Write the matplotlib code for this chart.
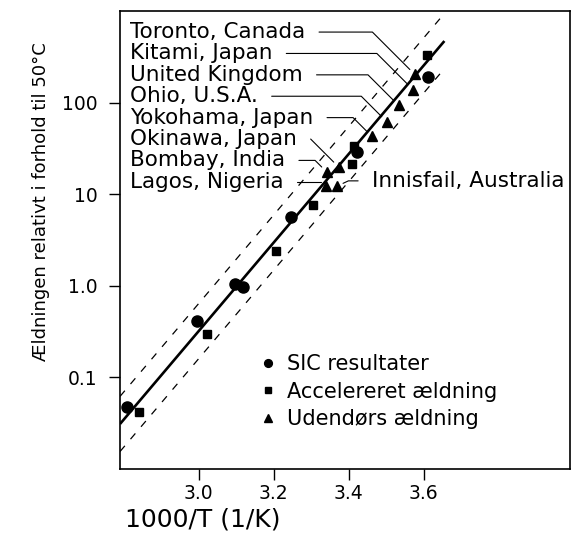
import numpy as np
import matplotlib
matplotlib.use("Agg")
from matplotlib import pyplot as plt

# SIC measurements, accelerated ageing and outdoor ageing (1000/T, relative ageing)
sic_x = [2.808, 2.995, 3.096, 3.117, 3.245, 3.421, 3.611]
sic_y = [0.047, 0.41, 1.05, 0.97, 5.6, 29, 188]

acc_x = [2.840, 3.021, 3.205, 3.304, 3.408, 3.413, 3.608]
acc_y = [0.042, 0.30, 2.37, 7.6, 21.4, 33.7, 328]

sites = ["Toronto, Canada", "Kitami, Japan", "United Kingdom", "Ohio, U.S.A.",
         "Yokohama, Japan", "Okinawa, Japan", "Bombay, India", "Lagos, Nigeria",
         "Innisfail, Australia"]
out_x = [3.576, 3.571, 3.533, 3.501, 3.461, 3.373, 3.341, 3.339, 3.368]
out_y = [203, 139, 93, 62, 43, 19.8, 17.5, 12.2, 12.2]

# fitted line and the factor-2 band around it
fit_x = [2.79, 3.655]
fit_y = [0.031, 470]
band = 2.0

xticks = [3.0, 3.2, 3.4, 3.6]
yticks = [0.1, 1.0, 10, 100]
ytick_labels = ["0.1", "1.0", "10", "100"]

plt.rcParams['font.family'] = ['DejaVu Sans']

fig = plt.figure(figsize=(5.8, 5.42), dpi=100)
ax = fig.add_axes([0.2069, 0.1347, 0.7759, 0.8450])
ax.set_yscale('log')
ax.set_xlim(2.79, 3.99)
ax.set_ylim(0.01, 1000)

fx = np.array(fit_x)
fy = np.array(fit_y)
ax.plot(fx, fy, color='black', lw=1.9, solid_capstyle='butt')
for f in (band, 1 / band):
    ax.plot(fx, fy * f, color='black', lw=0.9, dashes=(6, 7))

ax.plot(sic_x, sic_y, 'o', color='black', ms=8, label="SIC resultater")
ax.plot(acc_x, acc_y, 's', color='black', ms=6, label="Accelereret \u00e6ldning")
ax.plot(out_x, out_y, '^', color='black', ms=7.5, label="Udend\u00f8rs \u00e6ldning")

# site labels stacked down the left, leader runs across then down to the marker
row_top, row_step = 0.954, 0.0467
for i, (name, px, py) in enumerate(zip(sites, out_x, out_y)):
    if i < 8:
        xt, yt, rel, angB = 0.022, row_top - row_step * i, (1.0, 0.5), -45
    else:
        xt, yt, rel, angB = 0.56, row_top - row_step * 7 + 0.002, (0.0, 0.5), 25
    ax.annotate(name, xy=(px, py), xycoords='data',
                xytext=(xt, yt), textcoords='axes fraction',
                ha='left', va='center', fontsize=15.5,
                arrowprops=dict(arrowstyle='-', lw=0.8, color='black',
                                relpos=rel, shrinkA=8, shrinkB=5,
                                connectionstyle=f"angle,angleA=0,angleB={angB},rad=0"))

ax.set_xticks(xticks)
ax.set_xticklabels([f"{t:.1f}" for t in xticks])
ax.set_yticks(yticks)
ax.set_yticklabels(ytick_labels)
ax.yaxis.set_minor_locator(matplotlib.ticker.NullLocator())
ax.tick_params(direction='out', length=8, width=1.0, labelsize=13.5)
ax.tick_params(axis='y', pad=8)
ax.tick_params(axis='x', pad=3)

for s in ax.spines.values():
    s.set_linewidth(1.2)

ax.set_xlabel("1000/T (1/K)", fontsize=18, loc='left')
ax.xaxis.set_label_coords(0.011, -0.085)
ax.set_ylabel("\u00c6ldningen relativt i forhold til 50\u00b0C", fontsize=13)
ax.yaxis.set_label_coords(-0.155, 0.583)

ax.legend(loc='upper left', bbox_to_anchor=(0.31, 0.25), frameon=False,
          fontsize=15, markerscale=0.7, handlelength=0.8, handletextpad=0.5,
          labelspacing=0.35, borderpad=0, borderaxespad=0)

fig.savefig("out.png", dpi=100)
